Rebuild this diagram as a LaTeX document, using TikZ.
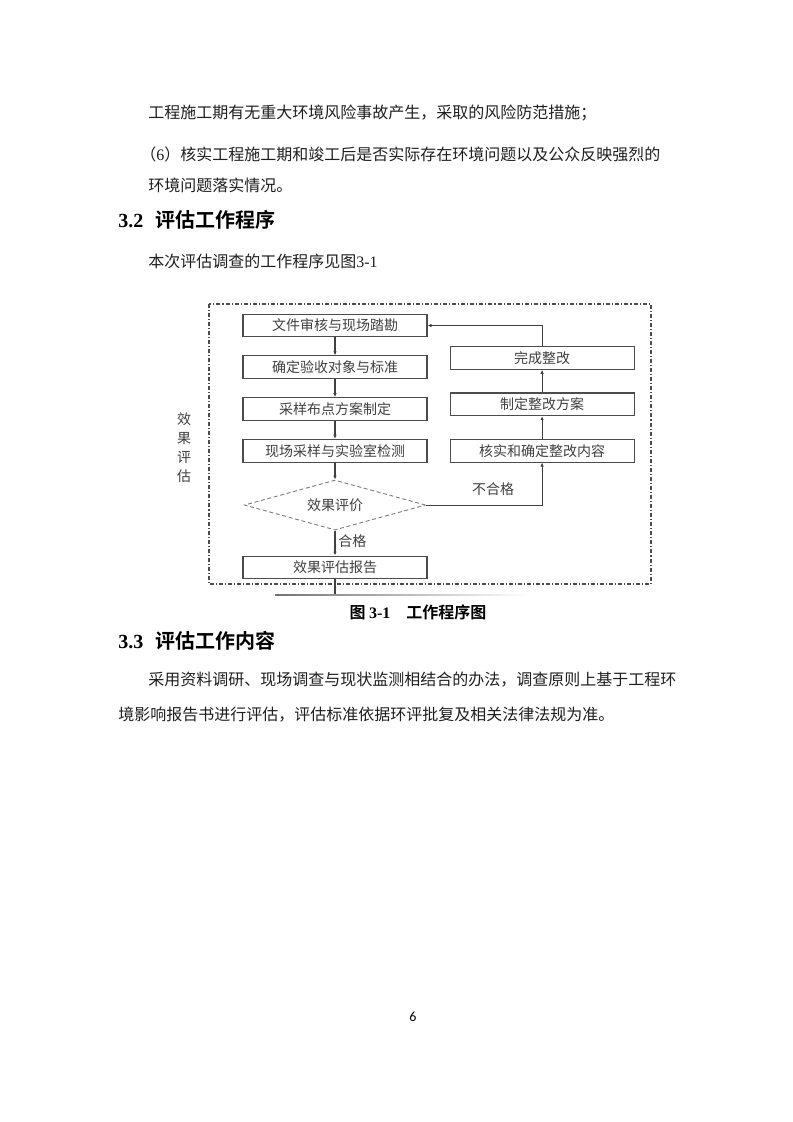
\documentclass[tikz,border=0pt]{standalone}
\usepackage{fontspec}
\setmainfont{Noto Sans CJK SC}[BoldFont={Noto Sans CJK SC Bold}]
\newfontfamily\tms{Liberation Serif}
\newfontfamily\pgnum{Carlito}
\usetikzlibrary{positioning,shapes.geometric,arrows.meta}

\tikzset{
  txt/.style={anchor=west, inner sep=0pt, font=\fontsize{12pt}{12pt}\selectfont, text=black!88},
  head/.style={anchor=west, inner sep=0pt, font=\fontsize{15pt}{15pt}\selectfont\bfseries, text=black},
  stage/.style={draw=black!70, line width=0.8pt, minimum width=138pt, minimum height=17pt, inner sep=0pt,
    font=\fontsize{10.5pt}{10.5pt}\selectfont, text=black!75},
  check/.style={diamond, aspect=3.6, draw=black!50, densely dashed, line width=0.7pt, minimum width=136pt, minimum height=37.5pt,
    inner sep=0pt, font=\fontsize{10.5pt}{10.5pt}\selectfont, text=black!75},
  flow/.style={draw=black!75, line width=0.8pt, -{Latex[length=3pt,width=2.6pt]}},
  lab/.style={inner sep=0pt, font=\fontsize{10.5pt}{10.5pt}\selectfont, text=black!75}
}

\begin{document}
\begin{tikzpicture}[x=0.75pt,y=-0.75pt]
\fill[white] (0,0) rectangle (793,1122);
\useasboundingbox (0,0) rectangle (793,1122);

\node[txt] (l1) at (148,113) {工程施工期有无重大环境风险事故产生，采取的风险防范措施；};
\node[txt] (l2) at (140,154) {（{\tms 6}）核实工程施工期和竣工后是否实际存在环境问题以及公众反映强烈的};
\node[txt] (l3) at (148,185) {环境问题落实情况。};
\node[head] (h32) at (118,220) {{\tms\bfseries 3.2}\hspace{9pt}评估工作程序};
\node[txt] (l4) at (148,261) {本次评估调查的工作程序见图{\tms 3-1}};

\draw[black!70, line width=0.8pt, dash pattern=on 3pt off 1.5pt on 0.8pt off 1.5pt] (209,304) rectangle (651,584);

\node[stage] (b1) at (335,325.5) {文件审核与现场踏勘};
\node[stage, below=13.5pt of b1] (b2) {确定验收对象与标准};
\node[stage, below=13.5pt of b2] (b3) {采样布点方案制定};
\node[stage, below=13.5pt of b3] (b4) {现场采样与实验室检测};
\node[check, below=12.75pt of b4] (chk) {效果评价};
\node[stage, below=18.75pt of chk] (rep) {效果评估报告};
\node[stage, right=16.5pt of b4] (r3) {核实和确定整改内容};
\node[stage, above=17pt of r3] (r2) {制定整改方案};
\node[stage, above=17pt of r2] (r1) {完成整改};

\node[lab, align=center, font=\fontsize{10.5pt}{14.25pt}\selectfont] (side) at (184,448) {效\\果\\评\\估};
\node[lab] (ng) at (493,489) {不合格};
\node[lab, anchor=west] (ok) at (338,541) {合格};

\draw[flow] (b1) -- (b2);
\draw[flow] (b2) -- (b3);
\draw[flow] (b3) -- (b4);
\draw[flow] (b4) -- (chk);
\draw[flow] (chk) -- (rep);
\draw[flow] (chk.east) -| (r3.south);
\draw[flow] (r3) -- (r2);
\draw[flow] (r2) -- (r1);
\draw[flow] (r1.north) |- (b1.east);

\coordinate (rb) at (335,595);
\draw[black!75, line width=0.8pt] (rep.south) -- (rb);
\shade[left color=black!55, right color=white] (275,594) rectangle (527,595.5);

\node[inner sep=0pt, font=\fontsize{12pt}{12pt}\selectfont\bfseries] (cap) at (418,612) {图 {\tms\bfseries 3-1}\quad 工作程序图};

\node[head] (h33) at (118,641) {{\tms\bfseries 3.3}\hspace{9pt}评估工作内容};
\node[txt] (p1) at (148,680) {采用资料调研、现场调查与现状监测相结合的办法，调查原则上基于工程环};
\node[txt] (p2) at (118,715) {境影响报告书进行评估，评估标准依据环评批复及相关法律法规为准。};

\node[inner sep=0pt, font=\pgnum\fontsize{10.5pt}{10.5pt}\selectfont] (pg) at (413,1017) {6};
\end{tikzpicture}
\end{document}
